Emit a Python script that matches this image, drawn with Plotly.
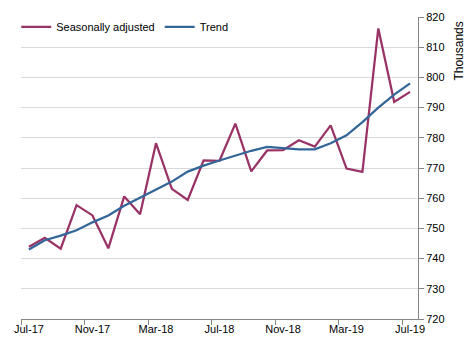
import plotly.graph_objects as go

months = ["Jul-17","Aug-17","Sep-17","Oct-17","Nov-17","Dec-17","Jan-18","Feb-18","Mar-18","Apr-18",
          "May-18","Jun-18","Jul-18","Aug-18","Sep-18","Oct-18","Nov-18","Dec-18","Jan-19","Feb-19",
          "Mar-19","Apr-19","May-19","Jun-19","Jul-19"]
seasonally_adjusted = [743.9, 746.9, 743.3, 757.7, 754.3, 743.4, 760.6, 754.7, 778.2, 763.1,
                       759.4, 772.5, 772.4, 784.7, 768.9, 775.8, 775.9, 779.2, 777.1, 784.1,
                       769.8, 768.7, 816.2, 791.9, 795.2]
trend = [743.0, 746.1, 747.6, 749.4, 752.0, 754.3, 757.5, 760.2, 762.7, 765.5,
         768.8, 770.8, 772.5, 774.1, 775.7, 777.0, 776.7, 776.2, 776.2, 778.2,
         780.8, 785.2, 790.0, 794.3, 798.0]
tick_labels = ["Jul-17", "Nov-17", "Mar-18", "Jul-18", "Nov-18", "Mar-19", "Jul-19"]

x = list(range(len(months)))
tick_positions = [months.index(t) for t in tick_labels]

FONT = "Liberation Sans"

fig = go.Figure()
fig.add_trace(go.Scatter(x=x, y=seasonally_adjusted, mode="lines", name="Seasonally adjusted",
                         line=dict(color="#993366", width=2.25)))
fig.add_trace(go.Scatter(x=x, y=trend, mode="lines", name="Trend",
                         line=dict(color="#336699", width=2.25)))

fig.update_layout(
    width=469, height=348,
    margin=dict(l=21, r=51, t=12, b=29),
    paper_bgcolor="white", plot_bgcolor="white",
    font=dict(family=FONT, size=11, color="#000000"),
    showlegend=True,
    legend=dict(orientation="h", x=-0.012, y=1.015, xanchor="left", yanchor="top",
                bgcolor="rgba(0,0,0,0)", font=dict(family=FONT, size=11),
                itemwidth=30, tracegroupgap=0),
    xaxis=dict(range=[-0.5, len(months) - 0.5], tickmode="array", tickvals=tick_positions,
               ticktext=tick_labels, ticks="", showgrid=False, zeroline=False,
               showline=True, linecolor="#868686", linewidth=1,
               tickfont=dict(family=FONT, size=11),
               minor=dict(tickmode="linear", tick0=-0.5, dtick=4, ticks="outside",
                          ticklen=5, tickcolor="#868686", showgrid=False)),
    yaxis=dict(side="right", range=[720, 820], dtick=10, tick0=720, showgrid=True,
               gridcolor="#d9d9d9", gridwidth=1, zeroline=False, showline=True,
               linecolor="#868686", linewidth=1, ticks="outside", ticklen=5,
               tickcolor="#868686", tickfont=dict(family=FONT, size=11)),
    annotations=[dict(text="Thousands", textangle=-90, xref="paper", yref="paper",
                      x=1.101, y=0.99, xanchor="center", yanchor="top", showarrow=False,
                      font=dict(family=FONT, size=12, color="#000000"))],
)

fig.write_html("out.html")
